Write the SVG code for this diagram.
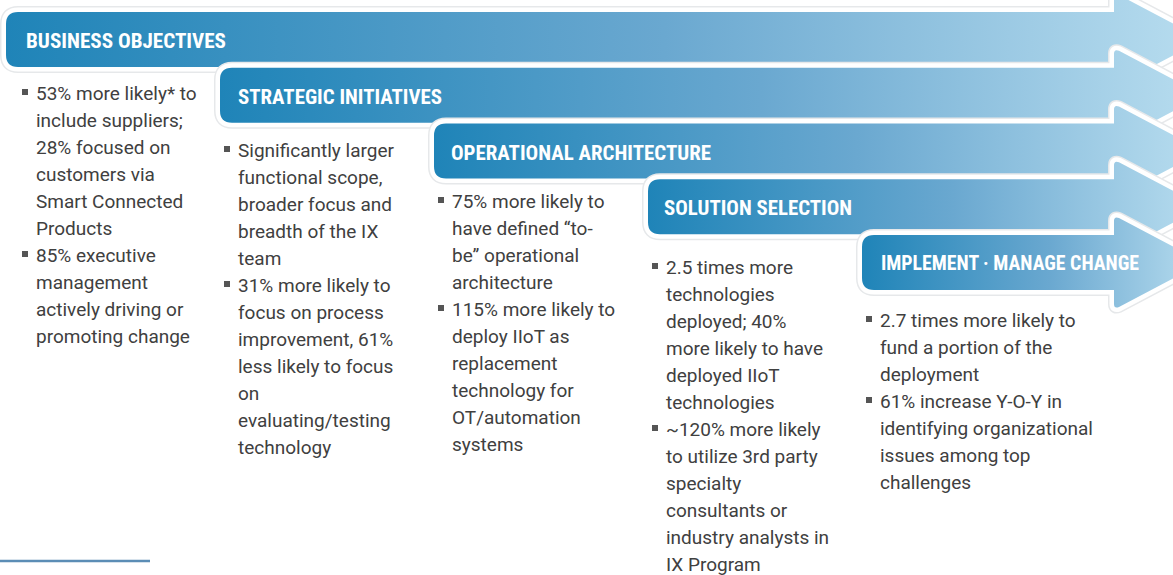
<svg xmlns="http://www.w3.org/2000/svg" width="1173" height="575" viewBox="0 0 1173 575">
  <defs>
    <linearGradient id="bandFill" x1="0" y1="0" x2="1" y2="0">
      <stop offset="0" stop-color="#1f84b8"/>
      <stop offset="0.55" stop-color="#6aa8d0"/>
      <stop offset="1" stop-color="#b8ddef"/>
    </linearGradient>
  </defs>
  <style>
    .halo { fill: none; stroke: #e6e8ea; stroke-width: 12; stroke-linejoin: round; }
    .rim { fill: url(#bandFill); stroke: #ffffff; stroke-width: 9; stroke-linejoin: round; paint-order: stroke; }
    .label { font-family: "Liberation Sans Narrow", "Roboto Condensed", Roboto, "Liberation Sans", sans-serif; font-weight: bold; font-size: 20px; fill: #ffffff; }
    .body { font-family: Roboto, "Liberation Sans", Arial, sans-serif; font-size: 19px; fill: #404040; }
    .dot { fill: #555555; }
    .rule { stroke: #5b8db5; stroke-width: 2.5; }
  </style>

  <!-- Stage 1 -->
  <g id="business-objectives">
    <path class="halo" d="M18,12 H1114 V-2 Q1114,-7 1119,-5 L1203,39.5 L1119,84 Q1114,86 1114,81 V67 H18 Q6,67 6,55 V24 Q6,12 18,12 Z"/>
    <path class="rim" d="M18,12 H1114 V-2 Q1114,-7 1119,-5 L1203,39.5 L1119,84 Q1114,86 1114,81 V67 H18 Q6,67 6,55 V24 Q6,12 18,12 Z"/>
    <text class="label" x="26" y="48" textLength="200" lengthAdjust="spacingAndGlyphs">BUSINESS OBJECTIVES</text>
    <rect class="dot" x="22" y="89" width="6" height="6"/>
    <rect class="dot" x="22" y="251" width="6" height="6"/>
    <text class="body" x="36" y="100">
      <tspan x="36">53% more likely* to</tspan>
      <tspan x="36" dy="27">include suppliers;</tspan>
      <tspan x="36" dy="27">28% focused on</tspan>
      <tspan x="36" dy="27">customers via</tspan>
      <tspan x="36" dy="27">Smart Connected</tspan>
      <tspan x="36" dy="27">Products</tspan>
      <tspan x="36" dy="27">85% executive</tspan>
      <tspan x="36" dy="27">management</tspan>
      <tspan x="36" dy="27">actively driving or</tspan>
      <tspan x="36" dy="27">promoting change</tspan>
    </text>
  </g>

  <!-- Stage 2 -->
  <g id="strategic-initiatives">
    <path class="halo" d="M232,67.75 H1114 V53.75 Q1114,48.75 1119,50.75 L1203,95.25 L1119,139.75 Q1114,141.75 1114,136.75 V122.75 H232 Q220,122.75 220,110.75 V79.75 Q220,67.75 232,67.75 Z"/>
    <path class="rim" d="M232,67.75 H1114 V53.75 Q1114,48.75 1119,50.75 L1203,95.25 L1119,139.75 Q1114,141.75 1114,136.75 V122.75 H232 Q220,122.75 220,110.75 V79.75 Q220,67.75 232,67.75 Z"/>
    <text class="label" x="238" y="103.5" textLength="204" lengthAdjust="spacingAndGlyphs">STRATEGIC INITIATIVES</text>
    <rect class="dot" x="224" y="146" width="6" height="6"/>
    <rect class="dot" x="224" y="281" width="6" height="6"/>
    <text class="body" x="238" y="157">
      <tspan x="238">Significantly larger</tspan>
      <tspan x="238" dy="27">functional scope,</tspan>
      <tspan x="238" dy="27">broader focus and</tspan>
      <tspan x="238" dy="27">breadth of the IX</tspan>
      <tspan x="238" dy="27">team</tspan>
      <tspan x="238" dy="27">31% more likely to</tspan>
      <tspan x="238" dy="27">focus on process</tspan>
      <tspan x="238" dy="27">improvement, 61%</tspan>
      <tspan x="238" dy="27">less likely to focus</tspan>
      <tspan x="238" dy="27">on</tspan>
      <tspan x="238" dy="27">evaluating/testing</tspan>
      <tspan x="238" dy="27">technology</tspan>
    </text>
  </g>

  <!-- Stage 3 -->
  <g id="operational-architecture">
    <path class="halo" d="M446,123.5 H1114 V109.5 Q1114,104.5 1119,106.5 L1203,151 L1119,195.5 Q1114,197.5 1114,192.5 V178.5 H446 Q434,178.5 434,166.5 V135.5 Q434,123.5 446,123.5 Z"/>
    <path class="rim" d="M446,123.5 H1114 V109.5 Q1114,104.5 1119,106.5 L1203,151 L1119,195.5 Q1114,197.5 1114,192.5 V178.5 H446 Q434,178.5 434,166.5 V135.5 Q434,123.5 446,123.5 Z"/>
    <text class="label" x="451" y="159.5" textLength="260" lengthAdjust="spacingAndGlyphs">OPERATIONAL ARCHITECTURE</text>
    <rect class="dot" x="438" y="197" width="6" height="6"/>
    <rect class="dot" x="438" y="305" width="6" height="6"/>
    <text class="body" x="452" y="208">
      <tspan x="452">75% more likely to</tspan>
      <tspan x="452" dy="27">have defined “to-</tspan>
      <tspan x="452" dy="27">be” operational</tspan>
      <tspan x="452" dy="27">architecture</tspan>
      <tspan x="452" dy="27">115% more likely to</tspan>
      <tspan x="452" dy="27">deploy IIoT as</tspan>
      <tspan x="452" dy="27">replacement</tspan>
      <tspan x="452" dy="27">technology for</tspan>
      <tspan x="452" dy="27">OT/automation</tspan>
      <tspan x="452" dy="27">systems</tspan>
    </text>
  </g>

  <!-- Stage 4 -->
  <g id="solution-selection">
    <path class="halo" d="M660,179.25 H1114 V165.25 Q1114,160.25 1119,162.25 L1203,206.75 L1119,251.25 Q1114,253.25 1114,248.25 V234.25 H660 Q648,234.25 648,222.25 V191.25 Q648,179.25 660,179.25 Z"/>
    <path class="rim" d="M660,179.25 H1114 V165.25 Q1114,160.25 1119,162.25 L1203,206.75 L1119,251.25 Q1114,253.25 1114,248.25 V234.25 H660 Q648,234.25 648,222.25 V191.25 Q648,179.25 660,179.25 Z"/>
    <text class="label" x="664" y="215" textLength="188" lengthAdjust="spacingAndGlyphs">SOLUTION SELECTION</text>
    <rect class="dot" x="652" y="263" width="6" height="6"/>
    <rect class="dot" x="652" y="425" width="6" height="6"/>
    <text class="body" x="666" y="274">
      <tspan x="666">2.5 times more</tspan>
      <tspan x="666" dy="27">technologies</tspan>
      <tspan x="666" dy="27">deployed; 40%</tspan>
      <tspan x="666" dy="27">more likely to have</tspan>
      <tspan x="666" dy="27">deployed IIoT</tspan>
      <tspan x="666" dy="27">technologies</tspan>
      <tspan x="666" dy="27">~120% more likely</tspan>
      <tspan x="666" dy="27">to utilize 3rd party</tspan>
      <tspan x="666" dy="27">specialty</tspan>
      <tspan x="666" dy="27">consultants or</tspan>
      <tspan x="666" dy="27">industry analysts in</tspan>
      <tspan x="666" dy="27">IX Program</tspan>
    </text>
  </g>

  <!-- Stage 5 -->
  <g id="implement-manage-change">
    <path class="halo" d="M874,235 H1114 V221 Q1114,216 1119,218 L1203,262.5 L1119,307 Q1114,309 1114,304 V290 H874 Q862,290 862,278 V247 Q862,235 874,235 Z"/>
    <path class="rim" d="M874,235 H1114 V221 Q1114,216 1119,218 L1203,262.5 L1119,307 Q1114,309 1114,304 V290 H874 Q862,290 862,278 V247 Q862,235 874,235 Z"/>
    <text class="label" x="881" y="269.5" font-size="19" textLength="258" lengthAdjust="spacingAndGlyphs">IMPLEMENT · MANAGE CHANGE</text>
    <rect class="dot" x="866" y="316" width="6" height="6"/>
    <rect class="dot" x="866" y="397" width="6" height="6"/>
    <text class="body" x="880" y="327">
      <tspan x="880">2.7 times more likely to</tspan>
      <tspan x="880" dy="27">fund a portion of the</tspan>
      <tspan x="880" dy="27">deployment</tspan>
      <tspan x="880" dy="27">61% increase Y-O-Y in</tspan>
      <tspan x="880" dy="27">identifying organizational</tspan>
      <tspan x="880" dy="27">issues among top</tspan>
      <tspan x="880" dy="27">challenges</tspan>
    </text>
  </g>

  <!-- footnote rule -->
  <g id="connectors">
    <line class="rule" x1="0" y1="561" x2="150" y2="561"/>
  </g>
</svg>
